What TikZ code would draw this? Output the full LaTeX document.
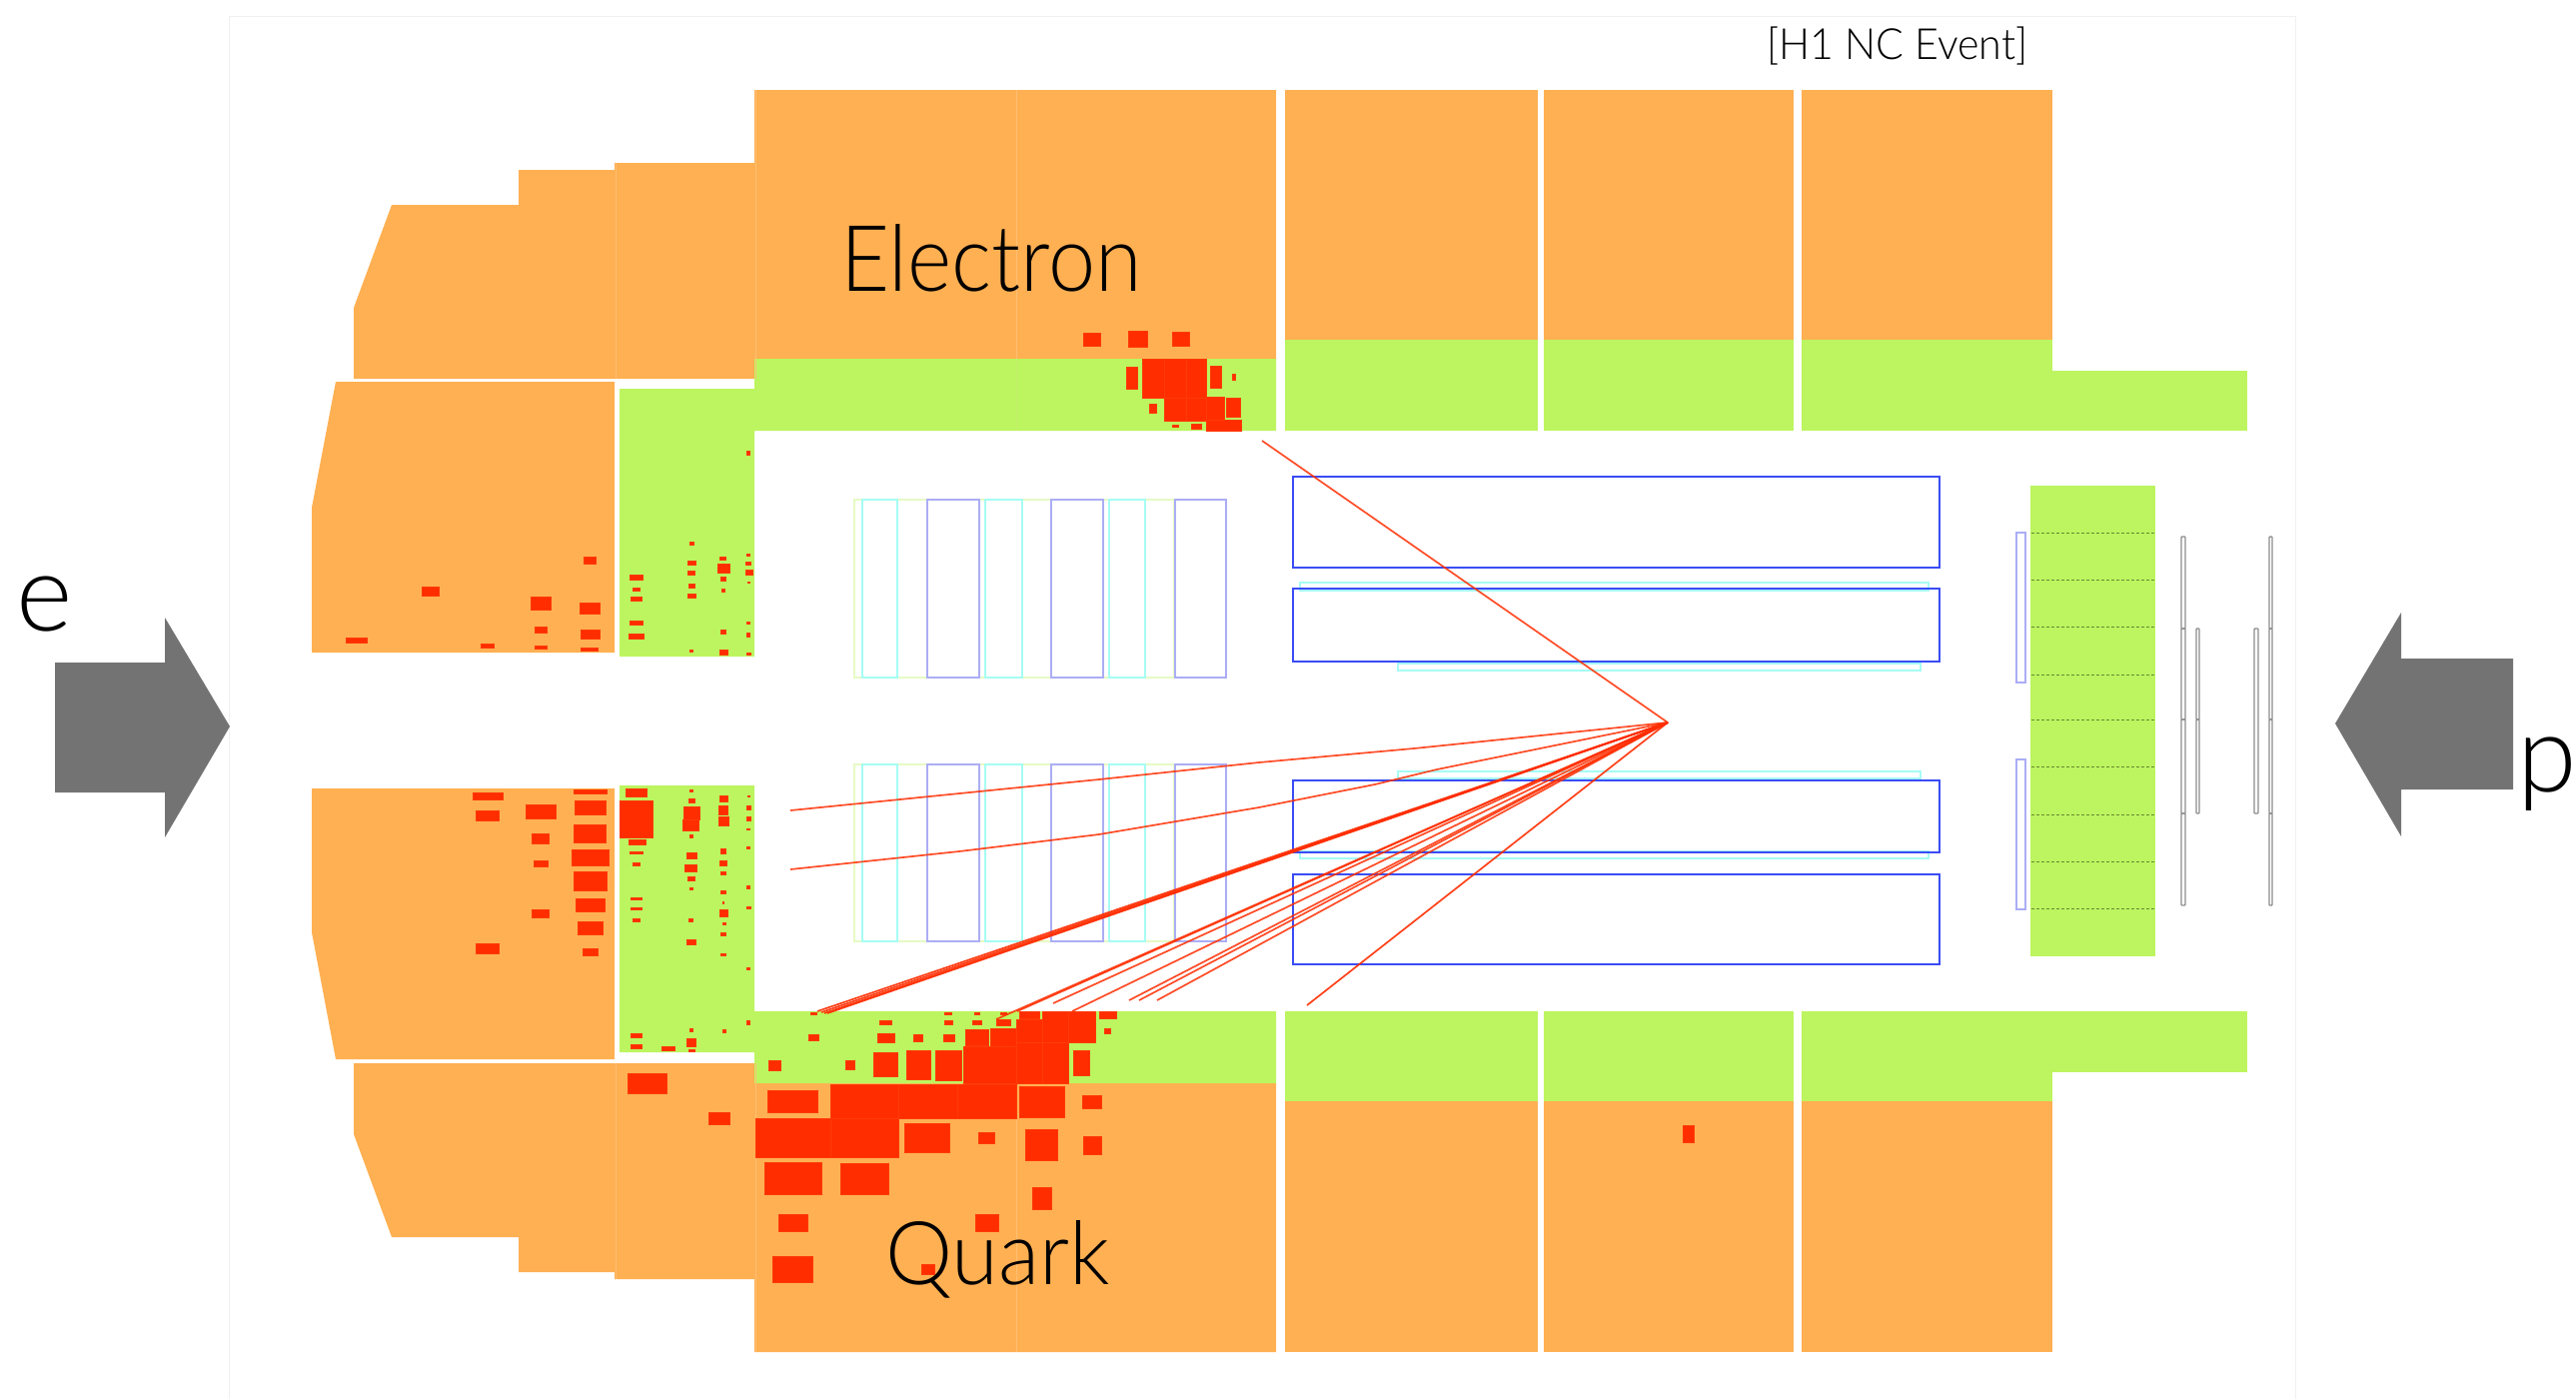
\documentclass[tikz,border=0pt]{standalone}
\usepackage{fontspec}
\setmainfont{TeX Gyre Heros}
\newfontfamily\lightf[UprightFont={* Light}]{Lato}
\definecolor{cal}{HTML}{FFB052}
\definecolor{calseam}{HTML}{FFBE72}
\definecolor{em}{HTML}{BCF55F}
\definecolor{emseam}{HTML}{C4F06C}
\definecolor{hit}{HTML}{FF2D00}
\definecolor{hitedge}{HTML}{FF3A08}
\definecolor{beam}{HTML}{737373}
\definecolor{chamber}{HTML}{3A4CF5}
\definecolor{pale}{HTML}{ABADF5}
\definecolor{paleC}{HTML}{A6FCF4}
\definecolor{paleY}{HTML}{E6FAC4}
\tikzset{
  calo/.style={fill=cal},
  emc/.style={fill=em},
  cell/.style={fill=hit,draw=hitedge,line width=.5pt},
  trk/.style={draw=hit,line width=1.7pt,opacity=.85,line join=round},
  trkb/.style={draw=hit,line width=1.7pt,opacity=.9,line join=round},
  cjc/.style={draw=chamber,line width=2.4pt},
  cyanbox/.style={draw=paleC,line width=1.6pt},
  paleb/.style={draw=pale,line width=1.7pt},
  paley/.style={draw=paleY,line width=1.4pt},
  gbar/.style={draw=gray!90,line width=1.3pt,rounded corners=.8pt},
  word/.style={inner sep=0pt,anchor=base west,text=black},
}
\newcommand{\bigf}[1]{\lightf\fontsize{#1}{#1}\selectfont}
\newcommand{\hitset}[4]{%
  \begin{scope}[xshift=#1pt,yshift=-#2pt,x=#3pt,y=-#3pt]
    \foreach \a/\b/\c/\d in {#4} \path[cell] (\a,\b) rectangle (\c,\d);
  \end{scope}}
\begin{document}
\begin{tikzpicture}[x=1pt,y=-1pt]
\useasboundingbox (0,0) rectangle (2578,1400);
\fill[white] (0,0) rectangle (2578,1400);
\draw[black!6,line width=1pt] (229,1400)--(229,16)--(2297,16)--(2297,1400);

% upper calorimeter
\path[calo] (354,379)--(354,308)--(392,205)--(519,205)--(519,170)--(615,170)--(615,163)--(755,163)--(755,90)--(1277,90)--(1277,359)--(755,359)--(755,379)--cycle;
\path[calo] (312,653)--(312,508)--(336,382)--(615,382)--(615,653)--cycle;
\path[emc] (620,389)--(755,389)--(755,359)--(1277,359)--(1277,431)--(755,431)--(755,657)--(620,657)--cycle;
\foreach \xa/\xb in {1286/1539,1545/1795,1803/2054}{
  \path[calo] (\xa,90) rectangle (\xb,340);
  \path[emc] (\xa,340) rectangle (\xb,431);
  \path[emc] (\xa,1012) rectangle (\xb,1102);
  \path[calo] (\xa,1102) rectangle (\xb,1353);
}
\path[emc] (2054,371) rectangle (2249,431);
% lower calorimeter
\path[calo] (354,1064)--(755,1064)--(755,1084)--(1277,1084)--(1277,1353)--(755,1353)--(755,1280)--(615,1280)--(615,1273)--(519,1273)--(519,1238)--(392,1238)--(354,1135)--cycle;
\path[calo] (312,789)--(615,789)--(615,1060)--(336,1060)--(312,933)--cycle;
\path[emc] (620,786)--(755,786)--(755,1012)--(1277,1012)--(1277,1084)--(755,1084)--(755,1053)--(620,1053)--cycle;
\path[emc] (2054,1012) rectangle (2249,1073);
% seams
\foreach \ya/\yb in {163/379,1064/1280}{\draw[calseam,line width=.8pt] (616,\ya)--(616,\yb);}
\foreach \ya/\yb in {90/379,1064/1353}{\draw[calseam,line width=.8pt] (756,\ya)--(756,\yb);}
\foreach \ya/\yb in {90/359,1084/1353}{\draw[calseam,line width=.8pt] (1017,\ya)--(1017,\yb);}
\foreach \ya/\yb in {359/431,1012/1084}{\draw[emseam,line width=.8pt] (1017,\ya)--(1017,\yb);}

% rear block
\path[emc] (2032,486) rectangle (2157,957);
\foreach \y in {190,331,473,615,751,893,1036,1177,1319}
  \draw[black!45!em,line width=1pt,dash pattern=on 2.5pt off 2.5pt] (2033,{470+\y/3})--(2157,{470+\y/3});
\path[paleb] (2018,533) rectangle (2027,683);
\path[paleb] (2018,760) rectangle (2027,910);
\foreach \xa/\xb in {2183/2187,2271/2274}{
  \foreach \ya/\yb in {537/629,629/720,720/814,814/906}
    \path[gbar] (\xa,\ya) rectangle (\xb,\yb);
}
\foreach \ya/\yb in {629/720,720/814} \path[gbar] (2198,\ya) rectangle (2201,\yb);
\path[gbar] (2256,629) rectangle (2260,814);

% inner trackers, backward
\foreach \ya/\yb in {500/678,765/942}{
  \path[paley] (855,\ya) rectangle (1175,\yb);
  \foreach \xa/\xb in {863/898,986/1023,1110/1146}
    \path[cyanbox] (\xa,\ya) rectangle (\xb,\yb);
  \foreach \xa/\xb in {928/980,1052/1104,1176/1227}
    \path[paleb] (\xa,\ya) rectangle (\xb,\yb);
}
% central trackers
\path[cyanbox] (1301,583) rectangle (1930,591);
\path[cyanbox] (1399,664) rectangle (1922,671);
\path[cyanbox] (1399,772) rectangle (1922,779);
\path[cyanbox] (1301,852) rectangle (1930,859);
\path[cjc] (1294,477) rectangle (1941,568);
\path[cjc] (1294,589) rectangle (1941,662);
\path[cjc] (1294,781) rectangle (1941,853);
\path[cjc] (1294,875) rectangle (1941,965);

% hits
\hitset{280}{360}{.33333}{912/593/948/612,427/681/477/708,754/712/813/750,900/730/960/762,199/834/261/849,604/852/643/865,766/803/802/819,905/810/960/837,766/860/802/869,905/864/956/873,
1402/275/1412/285,1232/546/1242/556,1402/582/1412/590,1225/605/1248/616,1322/593/1338/601,1398/607/1415/617,1314/612/1350/640,1225/635/1245/647,1398/631/1419/647,1051/646/1090/662,1325/651/1338/663,1405/666/1412/669,1059/685/1082/693,1229/673/1246/686,1328/688/1335/696,1055/712/1086/723,1225/704/1249/716,1051/785/1090/796,1402/787/1412/793,1325/811/1338/823,1047/822/1094/837,1402/819/1411/831,1232/871/1241/877,1321/871/1345/885,1402/879/1414/885}
\hitset{280}{760}{.33333}{581/100/670/120,588/154/659/185,882/92/983/104,886/123/979/165,739/135/828/177,758/222/809/254,882/196/979/250,878/272/987/318,762/303/805/323,882/338/983/395,889/418/975/456,758/452/809/475,894/486/971/525,588/552/659/582,909/567/955/590,
1040/89/1102/112,1020/123/1121/234,1048/242/1098/257,1052/277/1090/284,1059/311/1082/318,1055/414/1086/422,1055/445/1086/452,1059/479/1082/487,1232/92/1241/97,1229/119/1245/131,1213/143/1260/181,1209/181/1258/215,1232/227/1241/234,1221/281/1252/299,1217/316/1252/338,1225/352/1245/364,1232/384/1241/391,1229/479/1241/487,1221/540/1248/556,1321/108/1345/127,1318/139/1345/165,1318/173/1349/200,1325/269/1338/284,1321/304/1341/318,1325/338/1338/345,1325/395/1338/402,1329/426/1334/433,1321/452/1345/471,1329/491/1338/495,1325/521/1338/529,1325/582/1338/590,1405/108/1411/112,1402/139/1415/150,1402/173/1415/185,1402/208/1411/212,1402/261/1411/269,1402/380/1411/388,1402/441/1415/448,1402/625/1411/632,1402/785/1411/797,1232/807/1241/816,1329/811/1338/819,1055/823/1086/834,1055/857/1086/869,1148/861/1187/873,1221/838/1248/861,1229/872/1245/877}
\hitset{740}{980}{.33333}{22/125/30/135,215/100/232/105,207/167/239/183,88/243/123/274,319/243/346/270,420/125/458/136,416/163/466/190,616/100/636/105,616/125/640/136,524/167/551/186,612/167/647/186,705/100/720/105,701/125/728/136,785/100/801/105,771/120/813/140,404/221/474/293,501/213/574/300,590/213/666/304,678/152/747/198,755/148/832/202,674/202/832/312,841/98/902/117,833/121/910/190,910/96/987/190,987/96/1068/190,833/190/910/312,910/190/987/312,1002/213/1052/289,1080/98/1133/117,1095/148/1114/163,84/335/235/400,273/316/478/419,478/316/655/419,655/316/833/419,841/323/976/415,1029/350/1087/388,49/419/273/534,273/419/478/534,497/434/632/519,717/461/767/492,859/450/956/545,1033/473/1087/527,76/549/246/645,304/553/447/645,879/626/937/691,118/706/204/756,709/706/778/756,99/831/219/909,547/855/585/885}
\hitset{1020}{310}{.33333}{193/70/244/108,328/63/385/112,459/67/510/108,371/148/436/265,436/148/503/265,503/148/563/265,436/265/503/334,503/265/563/334,563/262/617/332,563/332/667/363,622/265/664/322,321/173/356/238,575/170/606/234,640/192/649/212,390/284/413/311,459/345/478/353,517/342/548/357}
\path[cell] (628,1074) rectangle (667,1094);
\path[cell] (709,1113) rectangle (730,1125);
\path[cell] (1684,1126) rectangle (1695,1143);

% tracks
\coordinate (vtx) at (1669,723);
\draw[trk] (vtx)--(1263,441);
\draw[trk] (vtx)--(1415,749)--(1260,763)--(1100,780)--(791,811);
\draw[trk] (vtx)--(1438,770)--(1376,785)--(1260,808)--(1100,835)--(960,852)--(791,870);
\foreach \ex/\ey in {818/1012,822/1013,825/1014,828/1014}
  \draw[trkb] (vtx)--(\ex,\ey);
\foreach \ex/\ey in {997/1020,1018/1012,1054/1004,1073/1012,1130/1001,1140/1001,1158/1001}
  \draw[trk] (vtx)--(\ex,\ey);
\draw[trkb] (vtx)--(1308,1006);

% beam arrows
\path[fill=beam] (55,663)--(165,663)--(165,618)--(230,727)--(165,838)--(165,793)--(55,793)--cycle;
\path[fill=beam] (2337,724)--(2403,613)--(2403,659)--(2515,659)--(2515,790)--(2403,790)--(2403,837)--cycle;

% labels
\node[word,font=\bigf{108}] (lbe) at (16,631) {e};
\node[word,font=\bigf{108}] (lbp) at (2519,792) {p};
\node[word,font=\bigf{92}] (el) at (841,291) {\scalebox{.92}[1]{Electron}};
\node[word,font=\bigf{88}] (qu) at (886,1285) {\scalebox{.965}[1]{Quark}};
\node[word,font=\bigf{43}] (ev) at (1768,59) {\scalebox{.957}[1]{[H1 NC Event]}};
\end{tikzpicture}
\end{document}
